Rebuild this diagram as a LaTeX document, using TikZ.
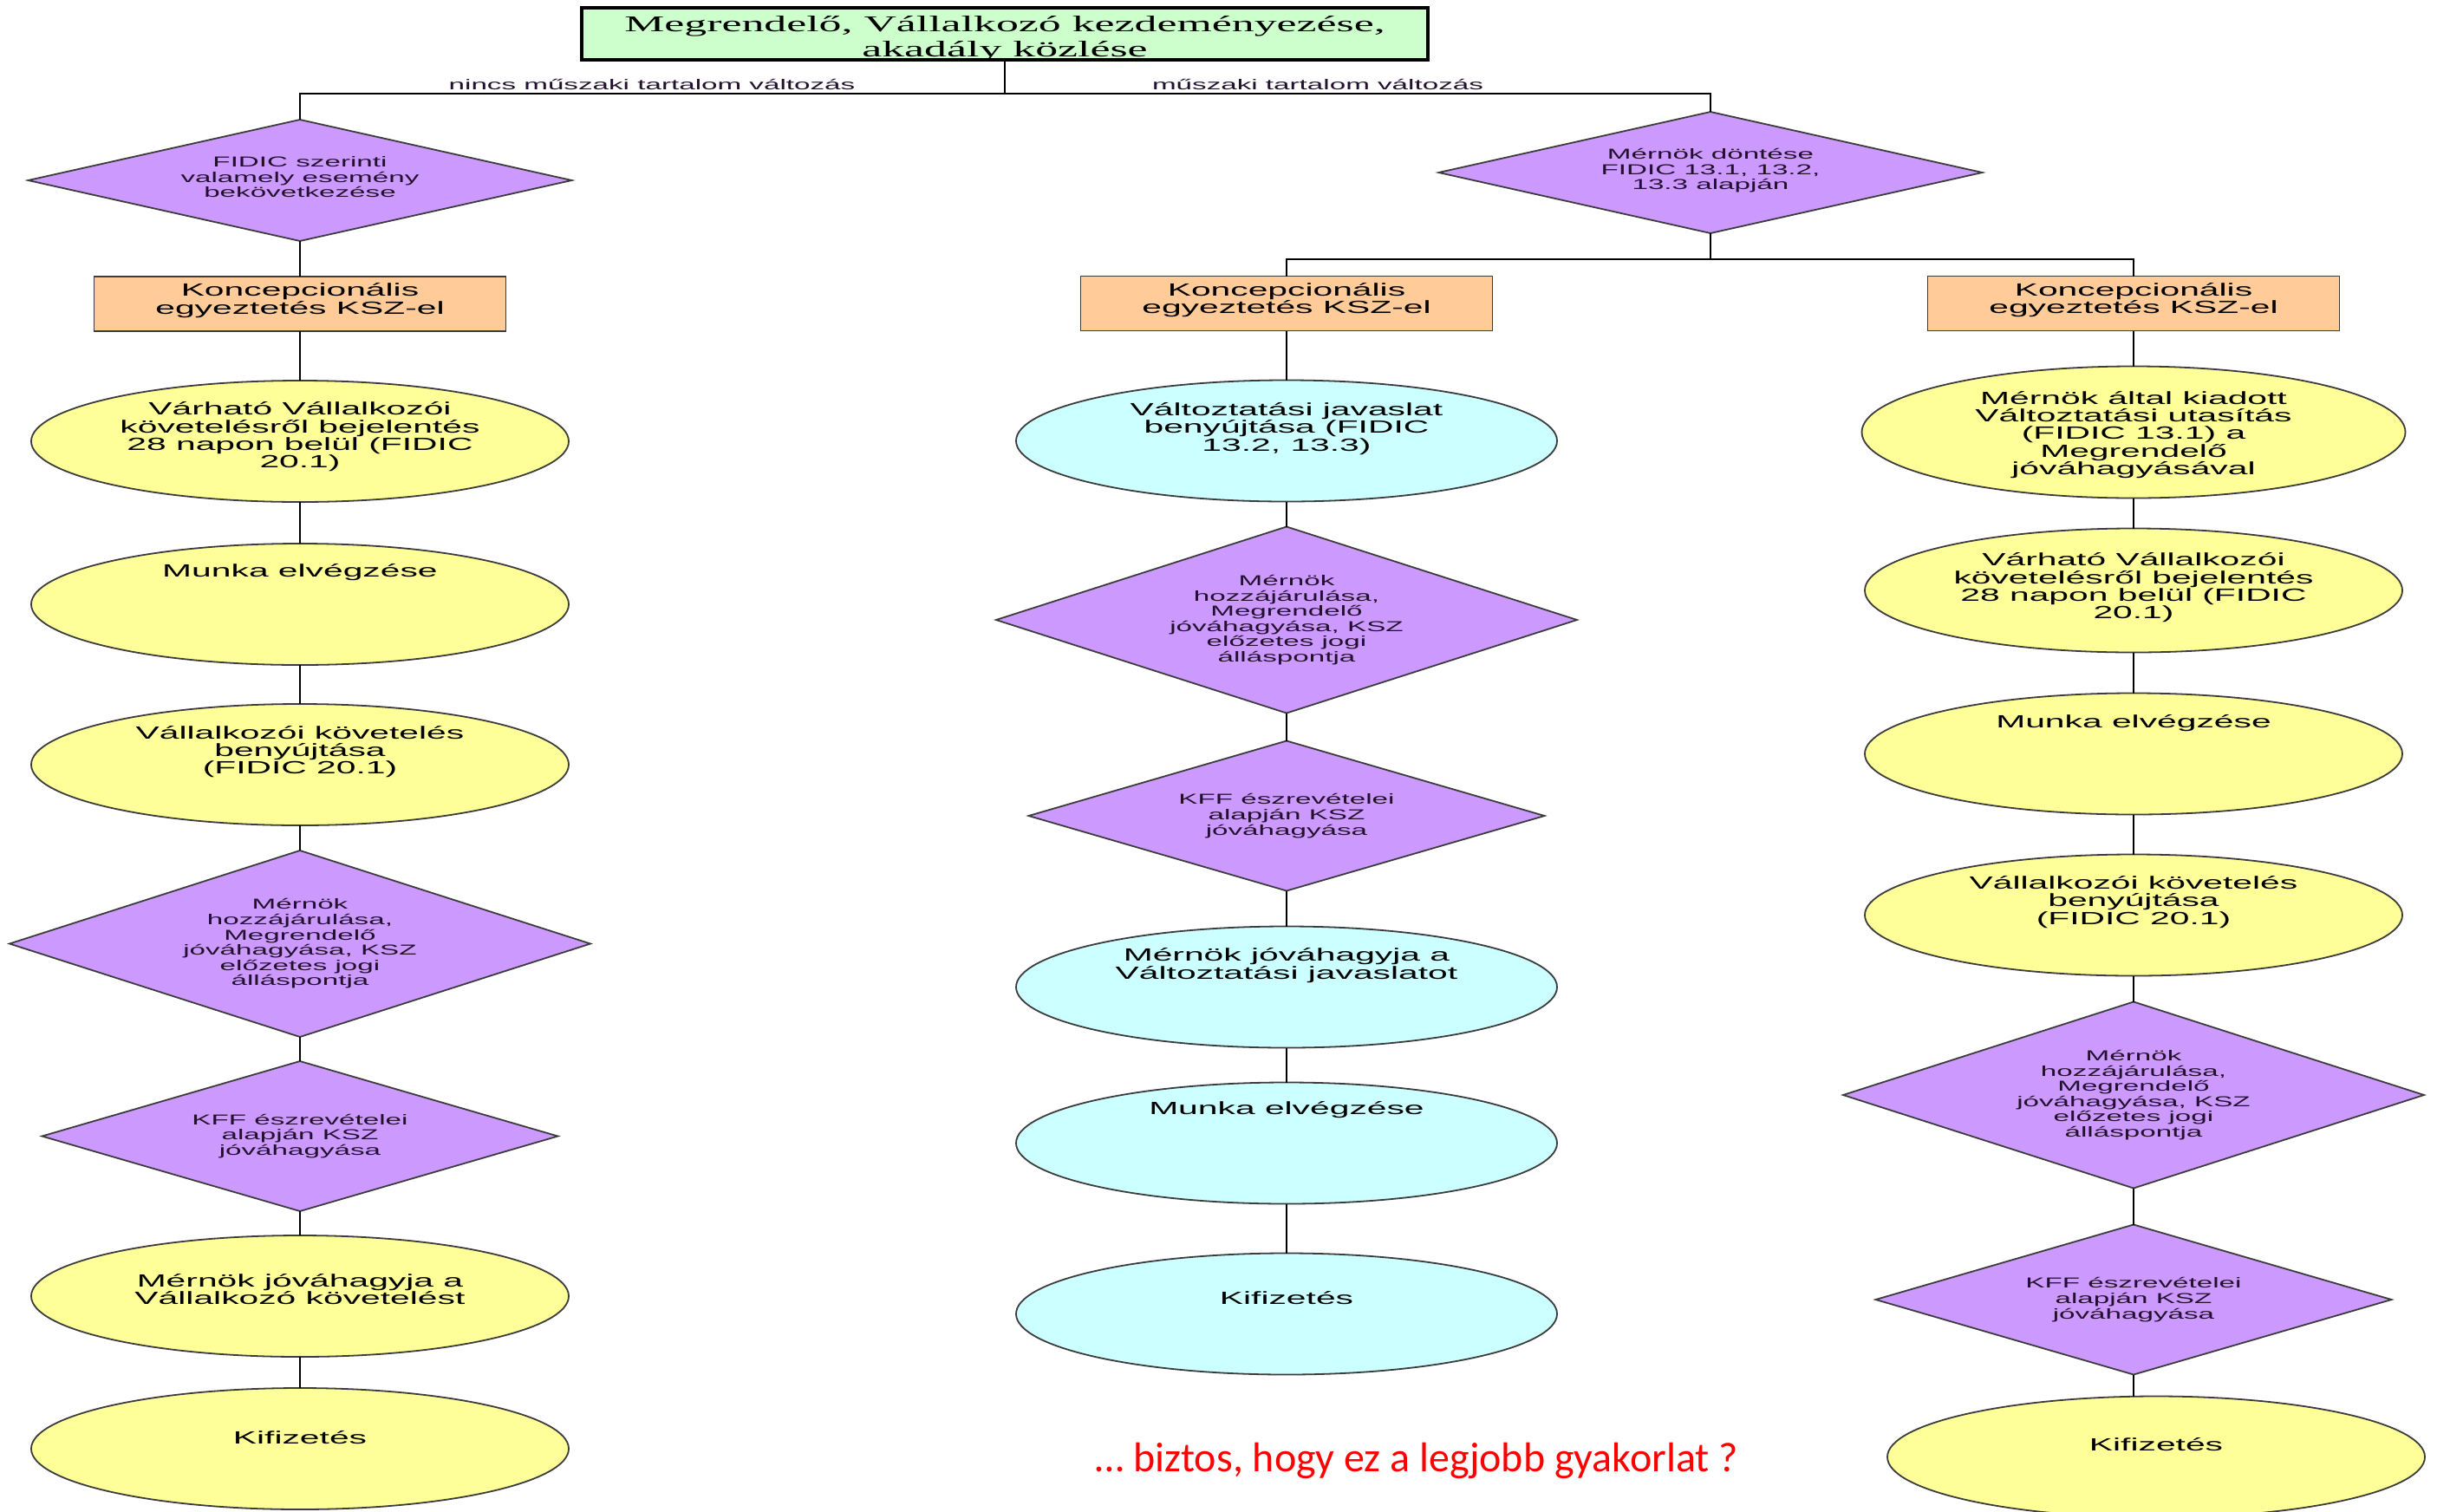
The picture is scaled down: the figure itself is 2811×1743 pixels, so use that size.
\documentclass[tikz,border=0pt]{standalone}
\usepackage{fontspec}
\setmainfont{Liberation Sans}
\newfontfamily\flowsf{Liberation Sans}[FakeStretch=2.0]
\newfontfamily\flowrm{Liberation Serif}[FakeStretch=2.0]
\newfontfamily\notefont{Carlito}
\usetikzlibrary{positioning}
\usetikzlibrary{shapes.geometric}

\definecolor{titlegreen}{HTML}{CCFFCC}
\definecolor{diapurple}{HTML}{CC99FF}
\definecolor{ellyellow}{HTML}{FFFF99}
\definecolor{ellcyan}{HTML}{CCFFFF}
\definecolor{boxpeach}{HTML}{FFCC99}
\definecolor{edgegray}{HTML}{3C3C3C}
\definecolor{diaink}{HTML}{22102E}
\definecolor{notered}{HTML}{FF0000}

\tikzset{
	elltext/.style={font=\flowsf\fontsize{20.4}{20.3}\selectfont, align=center, inner sep=0pt},
	diatext/.style={font=\flowsf\fontsize{16.6}{17.6}\selectfont, text=diaink, align=center},
	titletext/.style={font=\flowrm\fontsize{25.9}{29}\selectfont, align=center, inner sep=0pt},
	says/.style 2 args={label={[elltext, yshift=#1]center:{#2}}},
	shapebase/.style={draw=edgegray, line width=1.8pt, inner sep=0pt, outer sep=0pt},
	yell/.style={shapebase, ellipse, fill=ellyellow, minimum width=620pt, minimum height=140pt},
	cyanell/.style={shapebase, ellipse, fill=ellcyan, minimum width=624pt, minimum height=140pt},
	peach/.style={shapebase, rectangle, fill=boxpeach, minimum width=475pt, minimum height=63pt},
	dia/.style={shapebase, diamond, fill=diapurple, diatext},
	flatdia/.style={minimum width=627pt, minimum height=140pt, shape aspect=4.4, text depth=8pt},
	talldia/.style={minimum width=670pt, minimum height=215pt, shape aspect=3.1},
	kffdia/.style={minimum width=595pt, minimum height=173pt, shape aspect=3.4},
	link/.style={draw=black, line width=2pt},
}

\begin{document}
\begin{tikzpicture}[x=1pt, y=-1pt]
	
	\path[use as bounding box, fill=white] (0,0) rectangle (2811,1743);
	
	\node[draw=black, line width=4pt, fill=titlegreen, minimum width=976pt, minimum height=60pt, inner sep=0pt, label={[titletext, yshift=-6]center:{Megrendelő, Vállalkozó kezdeményezése,\\akadály közlése}}] (title) at (1159,39) {};
	
	\node[diatext, anchor=base, inner sep=0pt] (nincs) at (752,103) {nincs műszaki tartalom változás};
	\node[diatext, anchor=base, inner sep=0pt] (muszaki) at (1520,103) {műszaki tartalom változás};
	
	% nincs muszaki tartalom valtozas
	\node[dia, flatdia] (fidicL) at (346,208) {FIDIC szerinti\\valamely esemény\\bekövetkezése};
	\node[peach, below=41pt of fidicL, says={4}{Koncepcionális\\egyeztetés KSZ-el}] (boxL) {};
	\node[yell, below=57pt of boxL, says={5}{Várható Vállalkozói\\követelésről bejelentés\\28 napon belül (FIDIC\\20.1)}] (varhatoL) {};
	\node[yell, below=48pt of varhatoL, says={37}{Munka elvégzése}] (munkaL) {};
	\node[yell, below=45pt of munkaL, says={15}{Vállalkozói követelés\\benyújtása\\(FIDIC 20.1)}] (kovetelesL) {};
	\node[dia, talldia, below=29pt of kovetelesL] (hozzaL) {Mérnök\\hozzájárulása,\\Megrendelő\\jóváhagyása, KSZ\\előzetes jogi\\álláspontja};
	\node[dia, kffdia, below=28pt of hozzaL] (kffL) {KFF észrevételei\\alapján KSZ\\jóváhagyása};
	\node[yell, below=28pt of kffL, says={8}{Mérnök jóváhagyja a\\Vállalkozó követelést}] (jovaL) {};
	\node[yell, below=36pt of jovaL, says={13}{Kifizetés}] (kifizL) {};
	
	% muszaki tartalom valtozas
	\node[dia, flatdia] (donteseR) at (1973,199) {Mérnök döntése\\FIDIC 13.1, 13.2,\\13.3 alapján};
	
	\node[peach, says={4}{Koncepcionális\\egyeztetés KSZ-el}] (boxM) at (1484,350) {};
	\node[cyanell, below=57pt of boxM, says={14}{Változtatási javaslat\\benyújtása (FIDIC\\13.2, 13.3)}] (valtM) {};
	\node[dia, talldia, below=29pt of valtM] (hozzaM) {Mérnök\\hozzájárulása,\\Megrendelő\\jóváhagyása, KSZ\\előzetes jogi\\álláspontja};
	\node[dia, kffdia, below=32pt of hozzaM] (kffM) {KFF észrevételei\\alapján KSZ\\jóváhagyása};
	\node[cyanell, below=41pt of kffM, says={25}{Mérnök jóváhagyja a\\Változtatási javaslatot}] (jovaM) {};
	\node[cyanell, below=40pt of jovaM, says={38}{Munka elvégzése}] (munkaM) {};
	\node[cyanell, below=57pt of munkaM, says={18}{Kifizetés}] (kifizM) {};
	
	\node[peach, says={4}{Koncepcionális\\egyeztetés KSZ-el}] (boxR) at (2461,350) {};
	\node[yell, minimum width=627pt, minimum height=152pt, below=41pt of boxR, says={-3}{Mérnök által kiadott\\Változtatási utasítás\\(FIDIC 13.1) a\\Megrendelő\\jóváhagyásával}] (kiadottR) {};
	\node[yell, minimum height=143pt, below=35pt of kiadottR, says={3}{Várható Vállalkozói\\követelésről bejelentés\\28 napon belül (FIDIC\\20.1)}] (varhatoR) {};
	\node[yell, below=47pt of varhatoR, says={35}{Munka elvégzése}] (munkaR) {};
	\node[yell, below=46pt of munkaR, says={15}{Vállalkozói követelés\\benyújtása\\(FIDIC 20.1)}] (kovetelesR) {};
	\node[dia, talldia, below=30pt of kovetelesR] (hozzaR) {Mérnök\\hozzájárulása,\\Megrendelő\\jóváhagyása, KSZ\\előzetes jogi\\álláspontja};
	\node[dia, kffdia, below=42pt of hozzaR] (kffR) {KFF észrevételei\\alapján KSZ\\jóváhagyása};
	\node[yell, below=25pt of kffR, xshift=26pt, says={14}{Kifizetés}] (kifizR) {};
	
	\node[font=\notefont\fontsize{48}{50}\selectfont, text=notered, anchor=base, inner sep=0pt] (note) at (1634,1697) {… biztos, hogy ez a legjobb gyakorlat ?};
	
	% branches
	\coordinate (splitTop) at (1159,108);
	\coordinate (splitRight) at (1973,299);
	\draw[link] (title.south) -- (splitTop);
	\draw[link] (fidicL.north) |- (splitTop) -| (donteseR.north);
	\draw[link] (donteseR.south) -- (splitRight);
	\draw[link] (boxM.north) |- (splitRight) -| (boxR.north);
	
	\draw[link] (fidicL.south) -- (boxL.north);
	\draw[link] (boxL.south) -- (varhatoL.north);
	\draw[link] (varhatoL.south) -- (munkaL.north);
	\draw[link] (munkaL.south) -- (kovetelesL.north);
	\draw[link] (kovetelesL.south) -- (hozzaL.north);
	\draw[link] (hozzaL.south) -- (kffL.north);
	\draw[link] (kffL.south) -- (jovaL.north);
	\draw[link] (jovaL.south) -- (kifizL.north);
	
	\draw[link] (boxM.south) -- (valtM.north);
	\draw[link] (valtM.south) -- (hozzaM.north);
	\draw[link] (hozzaM.south) -- (kffM.north);
	\draw[link] (kffM.south) -- (jovaM.north);
	\draw[link] (jovaM.south) -- (munkaM.north);
	\draw[link] (munkaM.south) -- (kifizM.north);
	
	\draw[link] (boxR.south) -- (kiadottR.north);
	\draw[link] (kiadottR.south) -- (varhatoR.north);
	\draw[link] (varhatoR.south) -- (munkaR.north);
	\draw[link] (munkaR.south) -- (kovetelesR.north);
	\draw[link] (kovetelesR.south) -- (hozzaR.north);
	\draw[link] (hozzaR.south) -- (kffR.north);
	\draw[link] (kffR.south) -- (kffR.south |- kifizR.north);
	
\end{tikzpicture}
\end{document}
